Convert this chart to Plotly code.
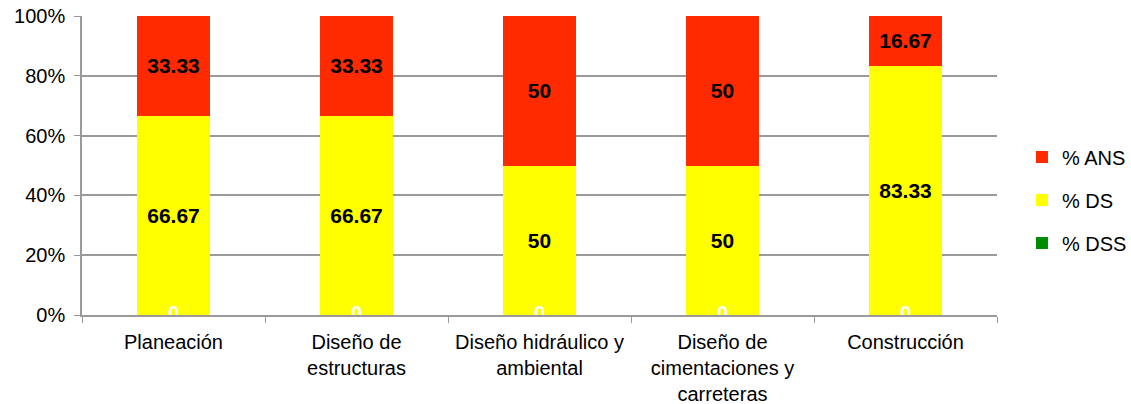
import plotly.graph_objects as go

categories = ["Planeación", "Diseño de<br>estructuras", "Diseño hidráulico y<br>ambiental",
              "Diseño de<br>cimentaciones y<br>carreteras", "Construcción"]
dss = [0, 0, 0, 0, 0]
ds = [66.67, 66.67, 50, 50, 83.33]
ans = [33.33, 33.33, 50, 50, 16.67]
y_ticks = [0, 20, 40, 60, 80, 100]
y_tick_labels = ["0%", "20%", "40%", "60%", "80%", "100%"]

font = "Liberation Sans, Arial, sans-serif"
fig = go.Figure()
series = [("% DSS", dss, "#008C00", 3), ("% DS", ds, "#FFFF00", 2), ("% ANS", ans, "#FF2A00", 1)]
for name, vals, color, rank in series:
    fig.add_trace(go.Bar(
        x=categories, y=vals, name=name, marker=dict(color=color, line=dict(width=0)),
        text=[f"{v:g}" for v in vals], textposition="inside", insidetextanchor="middle",
        textfont=dict(family=font, size=21, color="black"), texttemplate="<b>%{text}</b>",
        legendgroup=name, legendrank=rank, cliponaxis=False,
    ))
fig.add_trace(go.Scatter(
    x=categories, y=dss, mode="text", text=[f"{v:g}" for v in dss],
    textfont=dict(family=font, size=20, color="white"), texttemplate="<b>%{text}</b>",
    showlegend=False, hoverinfo="skip", cliponaxis=False,
))

fig.update_layout(
    template="none",
    barmode="stack", bargap=0.6,
    width=1131, height=404,
    margin=dict(l=82, r=134, t=16, b=89, autoexpand=False),
    plot_bgcolor="white", paper_bgcolor="white",
    font=dict(family=font, size=20, color="black"),
    legend=dict(xref="container", x=0.9036, yref="paper", y=0.385, yanchor="middle", xanchor="left",
                traceorder="grouped", itemwidth=30, tracegroupgap=14, font=dict(size=20),
                bgcolor="rgba(0,0,0,0)"),
    showlegend=True,
)
fig.update_yaxes(range=[0, 100], tickmode="array", tickvals=y_ticks, ticktext=y_tick_labels,
                 showgrid=True, gridcolor="#9A9A9A", gridwidth=1.5, showline=True, linecolor="#9A9A9A",
                 linewidth=1.5, ticks="outside", ticklen=6, tickcolor="#9A9A9A", zeroline=False,
                 automargin=False, ticklabeloverflow="allow", ticklabelstandoff=5, tickfont=dict(size=20))
fig.update_xaxes(showline=True, linecolor="#9A9A9A", linewidth=1.5, ticks="outside", tickson="boundaries",
                 ticklen=6, tickcolor="#9A9A9A", automargin=False, showgrid=False,
                 ticklabelstandoff=8, tickfont=dict(size=20))

fig.write_html("out.html", config={"displayModeBar": False},
               post_script="document.body.style.margin='0';")
